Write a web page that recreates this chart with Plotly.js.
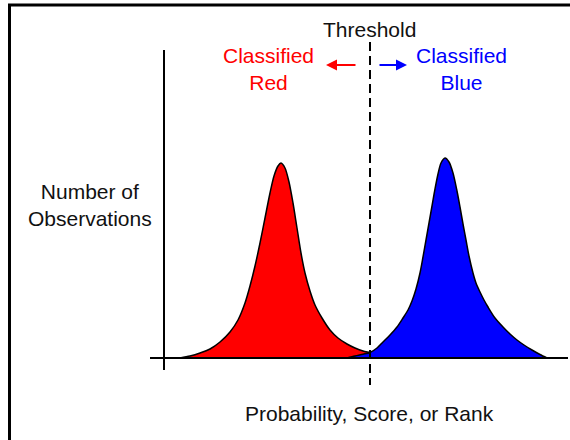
<!DOCTYPE html>
<html>
<head>
<meta charset="utf-8">
<script src="https://cdn.plot.ly/plotly-3.0.1.min.js"></script>
<style>html,body{margin:0;padding:0;background:#fff;}#chart{width:570px;height:440px;}</style>
</head>
<body>
<div id="chart"></div>
<script>
const redScore  = [180, 190, 200, 210, 220, 230, 238, 245, 250, 255, 260, 265, 270, 274, 278, 281, 285, 289, 293, 297, 301, 305, 310, 315, 322, 330, 338, 347, 355, 363, 370, 385, 400];
const redCount  = [0, 2, 5, 9, 16, 26, 38, 55, 72, 92, 115, 140, 165, 182, 192, 195, 190, 176, 155, 130, 105, 85, 67, 53, 40, 28, 20, 14, 10, 7, 5.5, 2, 0];
const blueScore = [347, 355, 363, 370, 377, 383, 390, 397, 403, 408, 412, 416, 420, 423, 426, 429, 432, 435, 438, 441, 445, 449, 453, 457, 460, 463, 466, 469, 473, 476, 480, 484, 488, 495, 503, 510, 517, 524, 532, 540, 547];
const blueCount = [0, 2, 3.8, 5.5, 10, 16, 23, 31, 40, 48, 57, 69, 85, 101, 118, 135, 152, 169, 184, 195, 200, 196, 185, 167, 151, 134, 118, 102, 85, 75, 66, 58, 51, 40, 31, 24, 18, 13, 8, 3.5, 0];
const threshold = 370;
const labels = {
  threshold: 'Threshold',
  red: 'Classified<br>Red',
  blue: 'Classified<br>Blue',
  yTitle: 'Number of<br>Observations',
  xTitle: 'Probability, Score, or Rank'
};

const FONT = '"Liberation Sans", Arial, sans-serif';

const traces = [
  {x: redScore, y: redCount, type: 'scatter', mode: 'lines', fill: 'tozeroy',
   fillcolor: '#ff0000', line: {color: '#000', width: 1.5, shape: 'spline', smoothing: 0.8}, hoverinfo: 'skip'},
  {x: blueScore, y: blueCount, type: 'scatter', mode: 'lines', fill: 'tozeroy',
   fillcolor: '#0000ff', line: {color: '#000', width: 1.5, shape: 'spline', smoothing: 0.8}, hoverinfo: 'skip'}
];

const layout = {
  width: 570, height: 440,
  margin: {l: 0, r: 0, t: 0, b: 0, pad: 0},
  paper_bgcolor: '#fff', plot_bgcolor: '#fff',
  showlegend: false,
  font: {family: FONT, size: 21, color: '#111'},
  xaxis: {range: [0, 570], visible: false, fixedrange: true},
  yaxis: {range: [-82, 358], visible: false, fixedrange: true},
  shapes: [
    // frame
    {type: 'line', xref: 'x', yref: 'y', x0: 9.5, x1: 9.5, y0: 353, y1: -90, line: {color: '#000', width: 3}},
    {type: 'line', xref: 'x', yref: 'y', x0: 8, x1: 575, y0: 353, y1: 353, line: {color: '#000', width: 3}},
    // axes
    {type: 'line', xref: 'x', yref: 'y', x0: 164, x1: 164, y0: -12, y1: 308, line: {color: '#000', width: 2}},
    {type: 'line', xref: 'x', yref: 'y', x0: 150, x1: 568, y0: 0, y1: 0, line: {color: '#000', width: 2}},
    // threshold
    {type: 'line', xref: 'x', yref: 'y', x0: threshold, x1: threshold, y0: 316, y1: -27,
     line: {color: '#000', width: 2, dash: '9px,5px'}}
  ],
  annotations: [
    {xref: 'x', yref: 'y', x: 369, y: 328.5, text: labels.threshold, showarrow: false,
     xanchor: 'center', yanchor: 'middle', font: {size: 21, color: '#111'}},
    {xref: 'x', yref: 'y', x: 268, y: 289, text: labels.red, showarrow: false,
     xanchor: 'center', yanchor: 'middle', font: {size: 21, color: '#ff0000'}},
    {xref: 'x', yref: 'y', x: 461, y: 289, text: labels.blue, showarrow: false,
     xanchor: 'center', yanchor: 'middle', font: {size: 21, color: '#0000ff'}},
    {xref: 'x', yref: 'y', x: 90, y: 153, text: labels.yTitle, showarrow: false,
     xanchor: 'center', yanchor: 'middle', font: {size: 21, color: '#111'}},
    {xref: 'x', yref: 'y', x: 369, y: -55, text: labels.xTitle, showarrow: false,
     xanchor: 'center', yanchor: 'middle', font: {size: 21, color: '#111'}},
    // arrows
    {xref: 'x', yref: 'y', axref: 'x', ayref: 'y', x: 326, y: 293, ax: 357, ay: 293, text: '',
     showarrow: true, arrowhead: 2, arrowsize: 1.1, arrowwidth: 2, arrowcolor: '#ff0000', standoff: 0, startstandoff: 0},
    {xref: 'x', yref: 'y', axref: 'x', ayref: 'y', x: 407, y: 293, ax: 378, ay: 293, text: '',
     showarrow: true, arrowhead: 2, arrowsize: 1.1, arrowwidth: 2, arrowcolor: '#0000ff', standoff: 0, startstandoff: 0}
  ]
};

Plotly.newPlot('chart', traces, layout, {displayModeBar: false, staticPlot: true});
</script>
</body>
</html>
